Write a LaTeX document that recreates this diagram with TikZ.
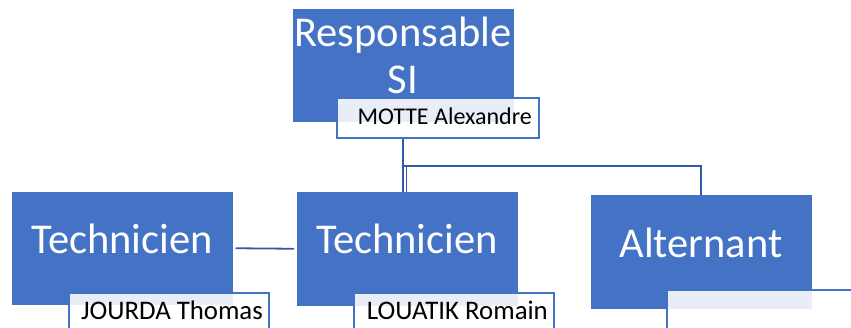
\documentclass[tikz,border=0pt]{standalone}
\usepackage{fontspec}
\setmainfont{Carlito}
\definecolor{boxblue}{HTML}{4472C4}
\definecolor{lineblue}{HTML}{325AAA}
\begin{document}
\begin{tikzpicture}[x=1pt,y=-1pt,
  rolebox/.style={fill=boxblue, draw=boxblue, line width=0.5pt, inner sep=0pt, anchor=north west},
  namebox/.style={fill=white, fill opacity=0.88, draw=boxblue, line width=1.6pt, inner sep=0pt, anchor=north west},
  roletext/.style={text=white, font=\fontsize{42.5}{47}\selectfont, inner sep=0pt, anchor=base},
  nametext/.style={text=black, font=\fontsize{26.8}{30}\selectfont, inner sep=0pt, anchor=base east},
  conn/.style={draw=lineblue, line width=1.8pt}]
\useasboundingbox (0,0) rectangle (851,327);
% role boxes
\node[rolebox, minimum width=220pt, minimum height=112pt] (resp) at (293,9) {};
\node[rolebox, minimum width=220pt, minimum height=112pt] (tech1) at (12,192) {};
\node[rolebox, minimum width=220pt, minimum height=113pt] (tech2) at (297,192) {};
\node[rolebox, minimum width=220pt, minimum height=113pt] (alt) at (591,195) {};
% connectors
\coordinate (jA) at (403,166);
\coordinate (jB) at (406.5,166);
% name boxes
\node[namebox, minimum width=202pt, minimum height=40pt] (motte) at (336,97) {};
\draw[conn] (motte.south -| jA) -- (tech2.north -| jA);
\draw[conn] (jB) -- (tech2.north -| jB);
\draw[conn] (jA) -| (alt.north);
\draw[conn] ([xshift=3pt]tech1.east) -- ([xshift=-3pt]tech2.west);
\node[namebox, minimum width=200pt, minimum height=50pt] (jourda) at (68,292) {};
\node[namebox, minimum width=200pt, minimum height=50pt] (louatik) at (353,292) {};
\node[namebox, minimum width=210pt, minimum height=60pt] (altname) at (666,289) {};
% texts
\node[roletext, align=center] (resptext) at (403,93) {Responsable\\SI};
\node[roletext] (tech1text) at (122,253) {Technicien};
\node[roletext] (tech2text) at (407,253) {Technicien};
\node[roletext] (alttext) at (701,257) {Alternant};
\node[nametext, font=\fontsize{24}{28}\selectfont] (mottetext) at (532,124) {MOTTE Alexandre};
\node[nametext] (jourdatext) at (263,319) {JOURDA Thomas};
\node[nametext] (louatiktext) at (548,319) {LOUATIK Romain};
\end{tikzpicture}
\end{document}
